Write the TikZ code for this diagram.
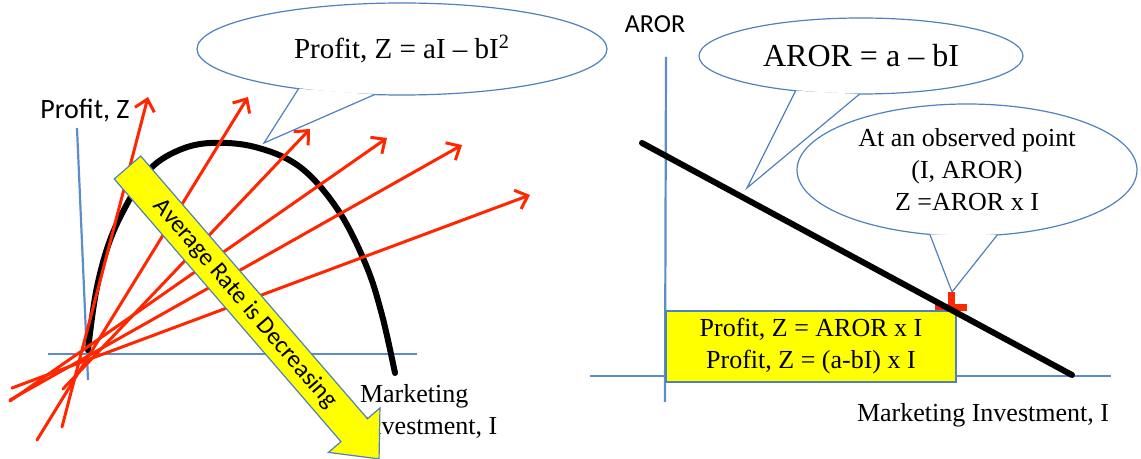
\documentclass[tikz,border=0pt]{standalone}
\usepackage{fontspec}
\setmainfont{Liberation Serif}
\newfontfamily\carlito{Carlito}
\usepackage{tikz}
\usetikzlibrary{positioning,arrows.meta,shapes.geometric}

\definecolor{axisblue}{RGB}{91,141,201}
\definecolor{edgeblue}{RGB}{79,129,189}
\definecolor{rayred}{RGB}{255,38,0}
\definecolor{hiyellow}{RGB}{255,255,0}

\tikzset{
  axis/.style      = {draw=axisblue, line width=1.1pt},
  ray/.style       = {draw=rayred, line width=1.5pt, line cap=round, -{Straight Barb[length=5.5pt,width=10pt]}},
  curve/.style     = {draw=black, line width=3pt, line cap=round},
  bubble/.style    = {ellipse, draw=edgeblue, fill=white, line width=0.6pt, inner sep=0pt, outer sep=0pt},
  tail/.style      = {draw=edgeblue, line width=0.6pt},
  hibox/.style     = {draw=edgeblue, fill=hiyellow, line width=0.6pt, inner sep=0pt},
  sanslabel/.style = {font=\carlito\fontsize{14}{17}\selectfont},
  serif13/.style   = {font=\fontsize{13}{16}\selectfont},
}

\begin{document}
\begin{tikzpicture}[x=0.5pt, y=-0.5pt]
\useasboundingbox (0,0) rectangle (1141,459);

% left chart: profit curve
\draw[axis]    (77,128) -- (88,380);
\draw[axis]    (48,354) -- (417,354);
\node    (profitZ)    [sanslabel]                        at (85,111)     {Profit, Z};
\node    (mktL)       [serif13, align=left, anchor=west] at (353,411)    {Marketing\\Investment, I};

\draw[curve] plot[smooth, tension=0.6] coordinates {(88,350) (96,292) (109,243) (127,204) (149,170) (177,151) (210,143) (255,147) (300,167) (338,210) (366,265) (382,315) (395,373)};

\foreach \xa/\ya/\xb/\yb in {62/427/148/97, 37/440/248/97, 63/389/310/129, 10/401/387/138, 10/400/462/145, 12/388/530/195}
  \draw[ray] (\xa,\ya) -- (\xb,\yb);

\node    (profitEq)   [bubble, minimum width=205pt, minimum height=46pt, font=\fontsize{14.5}{17}\selectfont] at (402,49) {Profit, Z = aI – bI\textsuperscript{2}};
\coordinate (tipL) at (264,143);
\fill[white]  (profitEq.201.3) -- (tipL) -- (profitEq.239.6) -- cycle;
\draw[tail]   (profitEq.201.3) -- (tipL) -- (profitEq.239.6);

% the big yellow arrow
\begin{scope}[shift={(127.5,167.5)}, rotate=-49.2]
  \draw[hibox] (0,17.5) -- (347,17.5) -- (347,34) -- (385,0) -- (347,-34) -- (347,-17.5) -- (0,-17.5) -- cycle;
  \node  (avgRate)  [rotate=-49.2, font=\carlito\fontsize{12.3}{14}\selectfont] at (180,0) {Average Rate is Decreasing};
\end{scope}

% right chart: AROR line
\node    (arorLbl)    [font=\carlito\fontsize{13}{16}\selectfont] at (655,24) {AROR};
\draw[axis]    (666,57) -- (665,402);
\draw[axis]    (590,376) -- (1111,376);
\node    (mktR)       [serif13]                          at (983,415)    {Marketing Investment, I};

\coordinate (obsPt) at (951,308);
\draw[rayred, line width=3.5pt] ([xshift=-8pt]obsPt) -- ([xshift=8pt]obsPt)
                                ([yshift=8pt]obsPt) -- ([yshift=-8pt]obsPt);

\node    (profitBox)  [hibox, serif13, align=center, minimum width=145pt, minimum height=35.5pt] at (811,346.5) {Profit, Z = AROR x I\\Profit, Z = (a-bI) x I};

\coordinate (arorHi) at (642,143);
\coordinate (arorLo) at (1072,375);
\draw[curve]  (arorHi) -- (arorLo);

\node    (arorEq)     [bubble, minimum width=162pt, minimum height=38pt, font=\fontsize{16}{19}\selectfont] at (861,56) {AROR = a – bI};
\coordinate (tipR1) at (747,188);
\fill[white]  (arorEq.208.7) -- (tipR1) -- (arorEq.268.5) -- cycle;
\draw[tail]   (arorEq.208.7) -- (tipR1) -- (arorEq.268.5);

\node    (obsNote)    [bubble, serif13, align=center, minimum width=170pt, minimum height=66pt] at (967,170) {At an observed point\\(I, AROR)\\Z =AROR x I};
\coordinate (tipR2) at (952,292);
\fill[white]  (obsNote.240.6) -- (tipR2) -- (obsNote.295.5) -- cycle;
\draw[tail]   (obsNote.240.6) -- (tipR2) -- (obsNote.295.5);
\end{tikzpicture}
\end{document}
